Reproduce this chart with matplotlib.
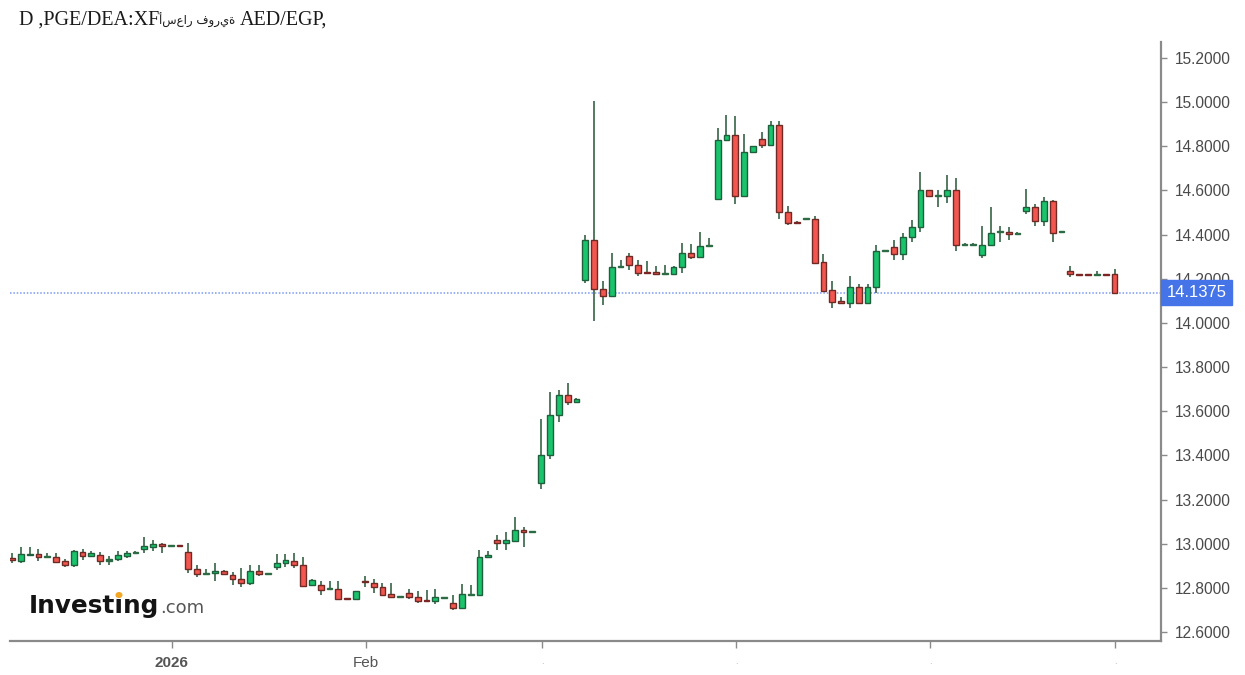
import matplotlib
matplotlib.use("Agg")
import matplotlib.pyplot as plt
import matplotlib.transforms as mtransforms
from matplotlib.patches import Ellipse
import numpy as np
import pandas as pd

# ---------------- data ----------------
dates = pd.bdate_range("2025-12-08", "2026-06-01")

opens = [12.935, 12.923, 12.950, 12.953, 12.938, 12.938, 12.920, 12.902, 12.962, 12.944,
         12.950, 12.924, 12.929, 12.944, 12.960, 12.977, 12.987, 12.999, 12.992, 12.994,
         12.962, 12.884, 12.864, 12.866, 12.878, 12.860, 12.839, 12.823, 12.878, 12.865,
         12.896, 12.911, 12.923, 12.905, 12.811, 12.811, 12.795, 12.796, 12.752, 12.748,
         12.832, 12.823, 12.805, 12.772, 12.759, 12.778, 12.760, 12.744, 12.739, 12.756,
         12.730, 12.709, 12.768, 12.766, 12.938, 13.016, 13.001, 13.013, 13.062, 13.055,
         13.276, 13.400, 13.581, 13.672, 13.642, 14.194, 14.376, 14.155, 14.122, 14.256,
         14.303, 14.261, 14.231, 14.231, 14.224, 14.222, 14.255, 14.315, 14.300, 14.349,
         14.563, 14.828, 14.849, 14.575, 14.774, 14.835, 14.807, 14.895, 14.502, 14.458,
         14.470, 14.472, 14.276, 14.149, 14.098, 14.089, 14.161, 14.089, 14.161, 14.326,
         14.342, 14.312, 14.388, 14.433, 14.602, 14.577, 14.575, 14.602, 14.355, 14.355,
         14.306, 14.354, 14.412, 14.412, 14.404, 14.508, 14.523, 14.460, 14.551, 14.413,
         14.237, 14.222, 14.221, 14.219, 14.222, 14.221]
highs = [12.959, 12.984, 12.984, 12.975, 12.956, 12.956, 12.932, 12.972, 12.978, 12.968,
         12.962, 12.944, 12.968, 12.968, 12.968, 13.029, 13.017, 13.005, 12.995, 12.995,
         13.002, 12.905, 12.887, 12.911, 12.880, 12.872, 12.890, 12.902, 12.905, 12.868,
         12.953, 12.953, 12.959, 12.938, 12.842, 12.829, 12.829, 12.833, 12.754, 12.787,
         12.854, 12.842, 12.823, 12.823, 12.762, 12.793, 12.787, 12.790, 12.793, 12.759,
         12.766, 12.817, 12.814, 12.971, 12.965, 13.041, 13.053, 13.119, 13.074, 13.058,
         13.566, 13.687, 13.696, 13.726, 13.660, 14.397, 15.004, 14.188, 14.318, 14.285,
         14.318, 14.285, 14.279, 14.258, 14.261, 14.258, 14.364, 14.358, 14.412, 14.385,
         14.883, 14.943, 14.937, 14.856, 14.801, 14.865, 14.916, 14.916, 14.529, 14.460,
         14.476, 14.484, 14.312, 14.191, 14.119, 14.212, 14.176, 14.178, 14.351, 14.331,
         14.376, 14.406, 14.466, 14.684, 14.604, 14.602, 14.671, 14.656, 14.360, 14.360,
         14.439, 14.523, 14.439, 14.436, 14.410, 14.605, 14.539, 14.569, 14.557, 14.418,
         14.258, 14.223, 14.222, 14.236, 14.223, 14.245]
lows = [12.911, 12.911, 12.944, 12.923, 12.935, 12.911, 12.893, 12.896, 12.926, 12.941,
        12.902, 12.902, 12.920, 12.935, 12.958, 12.956, 12.968, 12.956, 12.991, 12.991,
        12.866, 12.851, 12.863, 12.833, 12.861, 12.814, 12.805, 12.814, 12.854, 12.863,
        12.881, 12.893, 12.890, 12.805, 12.808, 12.769, 12.790, 12.748, 12.748, 12.748,
        12.805, 12.775, 12.763, 12.757, 12.757, 12.748, 12.733, 12.736, 12.727, 12.755,
        12.700, 12.703, 12.766, 12.766, 12.935, 12.971, 12.971, 13.013, 12.986, 13.054,
        13.249, 13.382, 13.551, 13.630, 13.640, 14.179, 14.007, 14.080, 14.122, 14.255,
        14.240, 14.213, 14.228, 14.222, 14.223, 14.222, 14.225, 14.291, 14.300, 14.348,
        14.563, 14.828, 14.539, 14.575, 14.774, 14.792, 14.807, 14.472, 14.442, 14.452,
        14.468, 14.273, 14.146, 14.067, 14.086, 14.067, 14.086, 14.086, 14.137, 14.324,
        14.285, 14.285, 14.366, 14.412, 14.573, 14.527, 14.545, 14.327, 14.351, 14.351,
        14.294, 14.354, 14.366, 14.375, 14.402, 14.493, 14.439, 14.439, 14.366, 14.411,
        14.206, 14.219, 14.218, 14.218, 14.219, 14.1375]
closes = [12.925, 12.953, 12.955, 12.938, 12.942, 12.917, 12.905, 12.966, 12.944, 12.956,
          12.923, 12.928, 12.947, 12.959, 12.963, 12.990, 12.999, 12.990, 12.994, 12.992,
          12.884, 12.863, 12.868, 12.878, 12.863, 12.839, 12.820, 12.878, 12.863, 12.867,
          12.914, 12.926, 12.902, 12.808, 12.835, 12.790, 12.797, 12.748, 12.750, 12.784,
          12.825, 12.802, 12.769, 12.757, 12.761, 12.757, 12.742, 12.740, 12.757, 12.758,
          12.709, 12.772, 12.770, 12.938, 12.950, 13.001, 13.016, 13.062, 13.055, 13.057,
          13.403, 13.584, 13.672, 13.642, 13.657, 14.376, 14.155, 14.122, 14.255, 14.259,
          14.261, 14.228, 14.228, 14.222, 14.226, 14.255, 14.315, 14.300, 14.348, 14.352,
          14.828, 14.849, 14.575, 14.774, 14.801, 14.807, 14.895, 14.502, 14.454, 14.454,
          14.473, 14.273, 14.146, 14.095, 14.089, 14.161, 14.089, 14.161, 14.327, 14.329,
          14.312, 14.388, 14.436, 14.602, 14.575, 14.579, 14.602, 14.351, 14.358, 14.358,
          14.354, 14.409, 14.417, 14.403, 14.408, 14.523, 14.460, 14.551, 14.409, 14.416,
          14.221, 14.220, 14.219, 14.222, 14.220, 14.1375]

last_price = 14.1375
y_ticks = [12.6, 12.8, 13.0, 13.2, 13.4, 13.6, 13.8, 14.0, 14.2, 14.4, 14.6, 14.8, 15.0, 15.2]
title_parts = ["D ,PGE/DEA:XF", "أسعار فورية", "AED/EGP,"]

# ---------------- style ----------------
GREEN = "#19c46c"
RED = "#f2564f"
GREEN_EDGE = "#1f5f3b"
RED_EDGE = "#6e2a24"
WICK = "#466f55"
GREEN_DASH = "#2d6b45"
RED_DASH = "#7a2424"

W, H = 1245, 675
fig = plt.figure(figsize=(W / 100, H / 100), dpi=100)
fig.patch.set_facecolor("white")

ax_left, ax_right, ax_top, ax_bottom = 10, 1161, 42, 641
ax = fig.add_axes([ax_left / W, (H - ax_bottom) / H,
                   (ax_right - ax_left) / W, (ax_bottom - ax_top) / H])
ax.set_facecolor("white")

o = np.array(opens); h = np.array(highs); l = np.array(lows); c = np.array(closes)
x = np.arange(len(o))
n = len(o)
up = c >= o

# wicks
ax.vlines(x, l, h, color=WICK, linewidth=1.3, zorder=2)

# bodies
bottoms = np.minimum(o, c)
heights = np.abs(c - o)
min_h = 0.005
is_dash = heights < min_h
heights_draw = np.where(is_dash, min_h, heights)
bottoms_draw = np.where(is_dash, (o + c) / 2 - min_h / 2, bottoms)

face = np.where(up, GREEN, RED)
edge = np.where(up, GREEN_EDGE, RED_EDGE)
face = np.where(is_dash, np.where(up, GREEN_DASH, RED_DASH), face)
edge = np.where(is_dash, np.where(up, GREEN_DASH, RED_DASH), edge)

ax.bar(x, heights_draw, bottom=bottoms_draw, width=0.66, color=list(face),
       edgecolor=list(edge), linewidth=1.0, zorder=3)

# last price line
ax.axhline(last_price, color="#7b98f2", linestyle=(0, (1, 1.2)), linewidth=1.1, zorder=1)

# limits
px_per_idx = 8.82
x0_px = 12
ax.set_xlim((ax_left - x0_px) / px_per_idx, (ax_right - x0_px) / px_per_idx)
px_per_unit = 220.75
ax.set_ylim(12.6 - (ax_bottom - 632) / px_per_unit, 15.2 + (58 - ax_top) / px_per_unit)

# spines
for s in ["top", "left"]:
    ax.spines[s].set_visible(False)
ax.spines["bottom"].set_color("#8a8a8a")
ax.spines["bottom"].set_linewidth(1.6)
ax.spines["right"].set_color("#8a8a8a")
ax.spines["right"].set_linewidth(1.6)

# y axis on right
ax.yaxis.tick_right()
ax.set_yticks(y_ticks)
ax.set_yticklabels([f"{v:.4f}" for v in y_ticks])
ax.tick_params(axis="y", direction="out", length=4, width=1, color="#8a8a8a",
               pad=6, labelsize=11.2, labelcolor="#4a4a4a")
for lab in ax.get_yticklabels():
    lab.set_fontfamily("Liberation Sans")

# x ticks at first trading day of each month
months = dates.to_period("M")
tick_idx = [i for i in range(1, n) if months[i] != months[i - 1]]
tick_labels = []
for i in tick_idx:
    d = dates[i]
    if d.month == 1:
        tick_labels.append(str(d.year))
    elif d.month == 2:
        tick_labels.append(d.strftime("%b"))
    else:
        tick_labels.append(".")
ax.set_xticks([i + 0.1 for i in tick_idx])
ax.set_xticklabels(tick_labels)
ax.tick_params(axis="x", direction="out", length=5, width=1, color="#8a8a8a",
               pad=6, labelsize=11, labelcolor="#555555")
for lab in ax.get_xticklabels():
    lab.set_fontfamily("Liberation Sans")
    if lab.get_text().isdigit():
        lab.set_fontweight("bold")
    if lab.get_text() == ".":
        lab.set_color("#b0b0b0")
        lab.set_fontsize(7)

# last price label box
trans = mtransforms.blended_transform_factory(ax.transAxes, ax.transData)
ax.text(1.005, last_price, f"{last_price:.4f}", transform=trans, ha="left", va="center",
        fontsize=12, color="white", family="Liberation Sans", clip_on=False, zorder=10,
        bbox=dict(boxstyle="square,pad=0.32", facecolor="#4574e8", edgecolor="#4574e8"))

# title (three runs chained: latin, arabic, latin)
ty = 1 - 20 / H
t1 = fig.text(19 / W, ty, title_parts[0], ha="left", va="center", fontsize=14.5,
              color="#1a1a1a", family=["Liberation Serif", "DejaVu Sans"])
t2 = ax.annotate(title_parts[1], xy=(1, 0.5), xycoords=t1, xytext=(0, 0),
                 textcoords="offset points", ha="left", va="center", fontsize=8.5,
                 color="#1a1a1a", family=["DejaVu Sans", "Liberation Serif"],
                 annotation_clip=False)
t3 = ax.annotate(title_parts[2], xy=(1, 0.5), xycoords=t2, xytext=(3, 0),
                 textcoords="offset points", ha="left", va="center", fontsize=14.5,
                 color="#1a1a1a", family=["Liberation Serif", "DejaVu Sans"],
                 annotation_clip=False)

# logo
fig.text(29 / W, 1 - 613 / H, "Investing", ha="left", va="baseline", fontsize=17.8,
         fontweight="bold", family="DejaVu Sans", color="#141414")
fig.text(160 / W, 1 - 613 / H, ".com", ha="left", va="baseline", fontsize=13,
         family="DejaVu Sans", color="#555555")
fig.patches.append(Ellipse((119 / W, 1 - 595 / H), 7 / W, 6 / H, transform=fig.transFigure,
                           facecolor="#f5a623", edgecolor="none", zorder=20))

fig.savefig("out.png", dpi=100, facecolor="white")
